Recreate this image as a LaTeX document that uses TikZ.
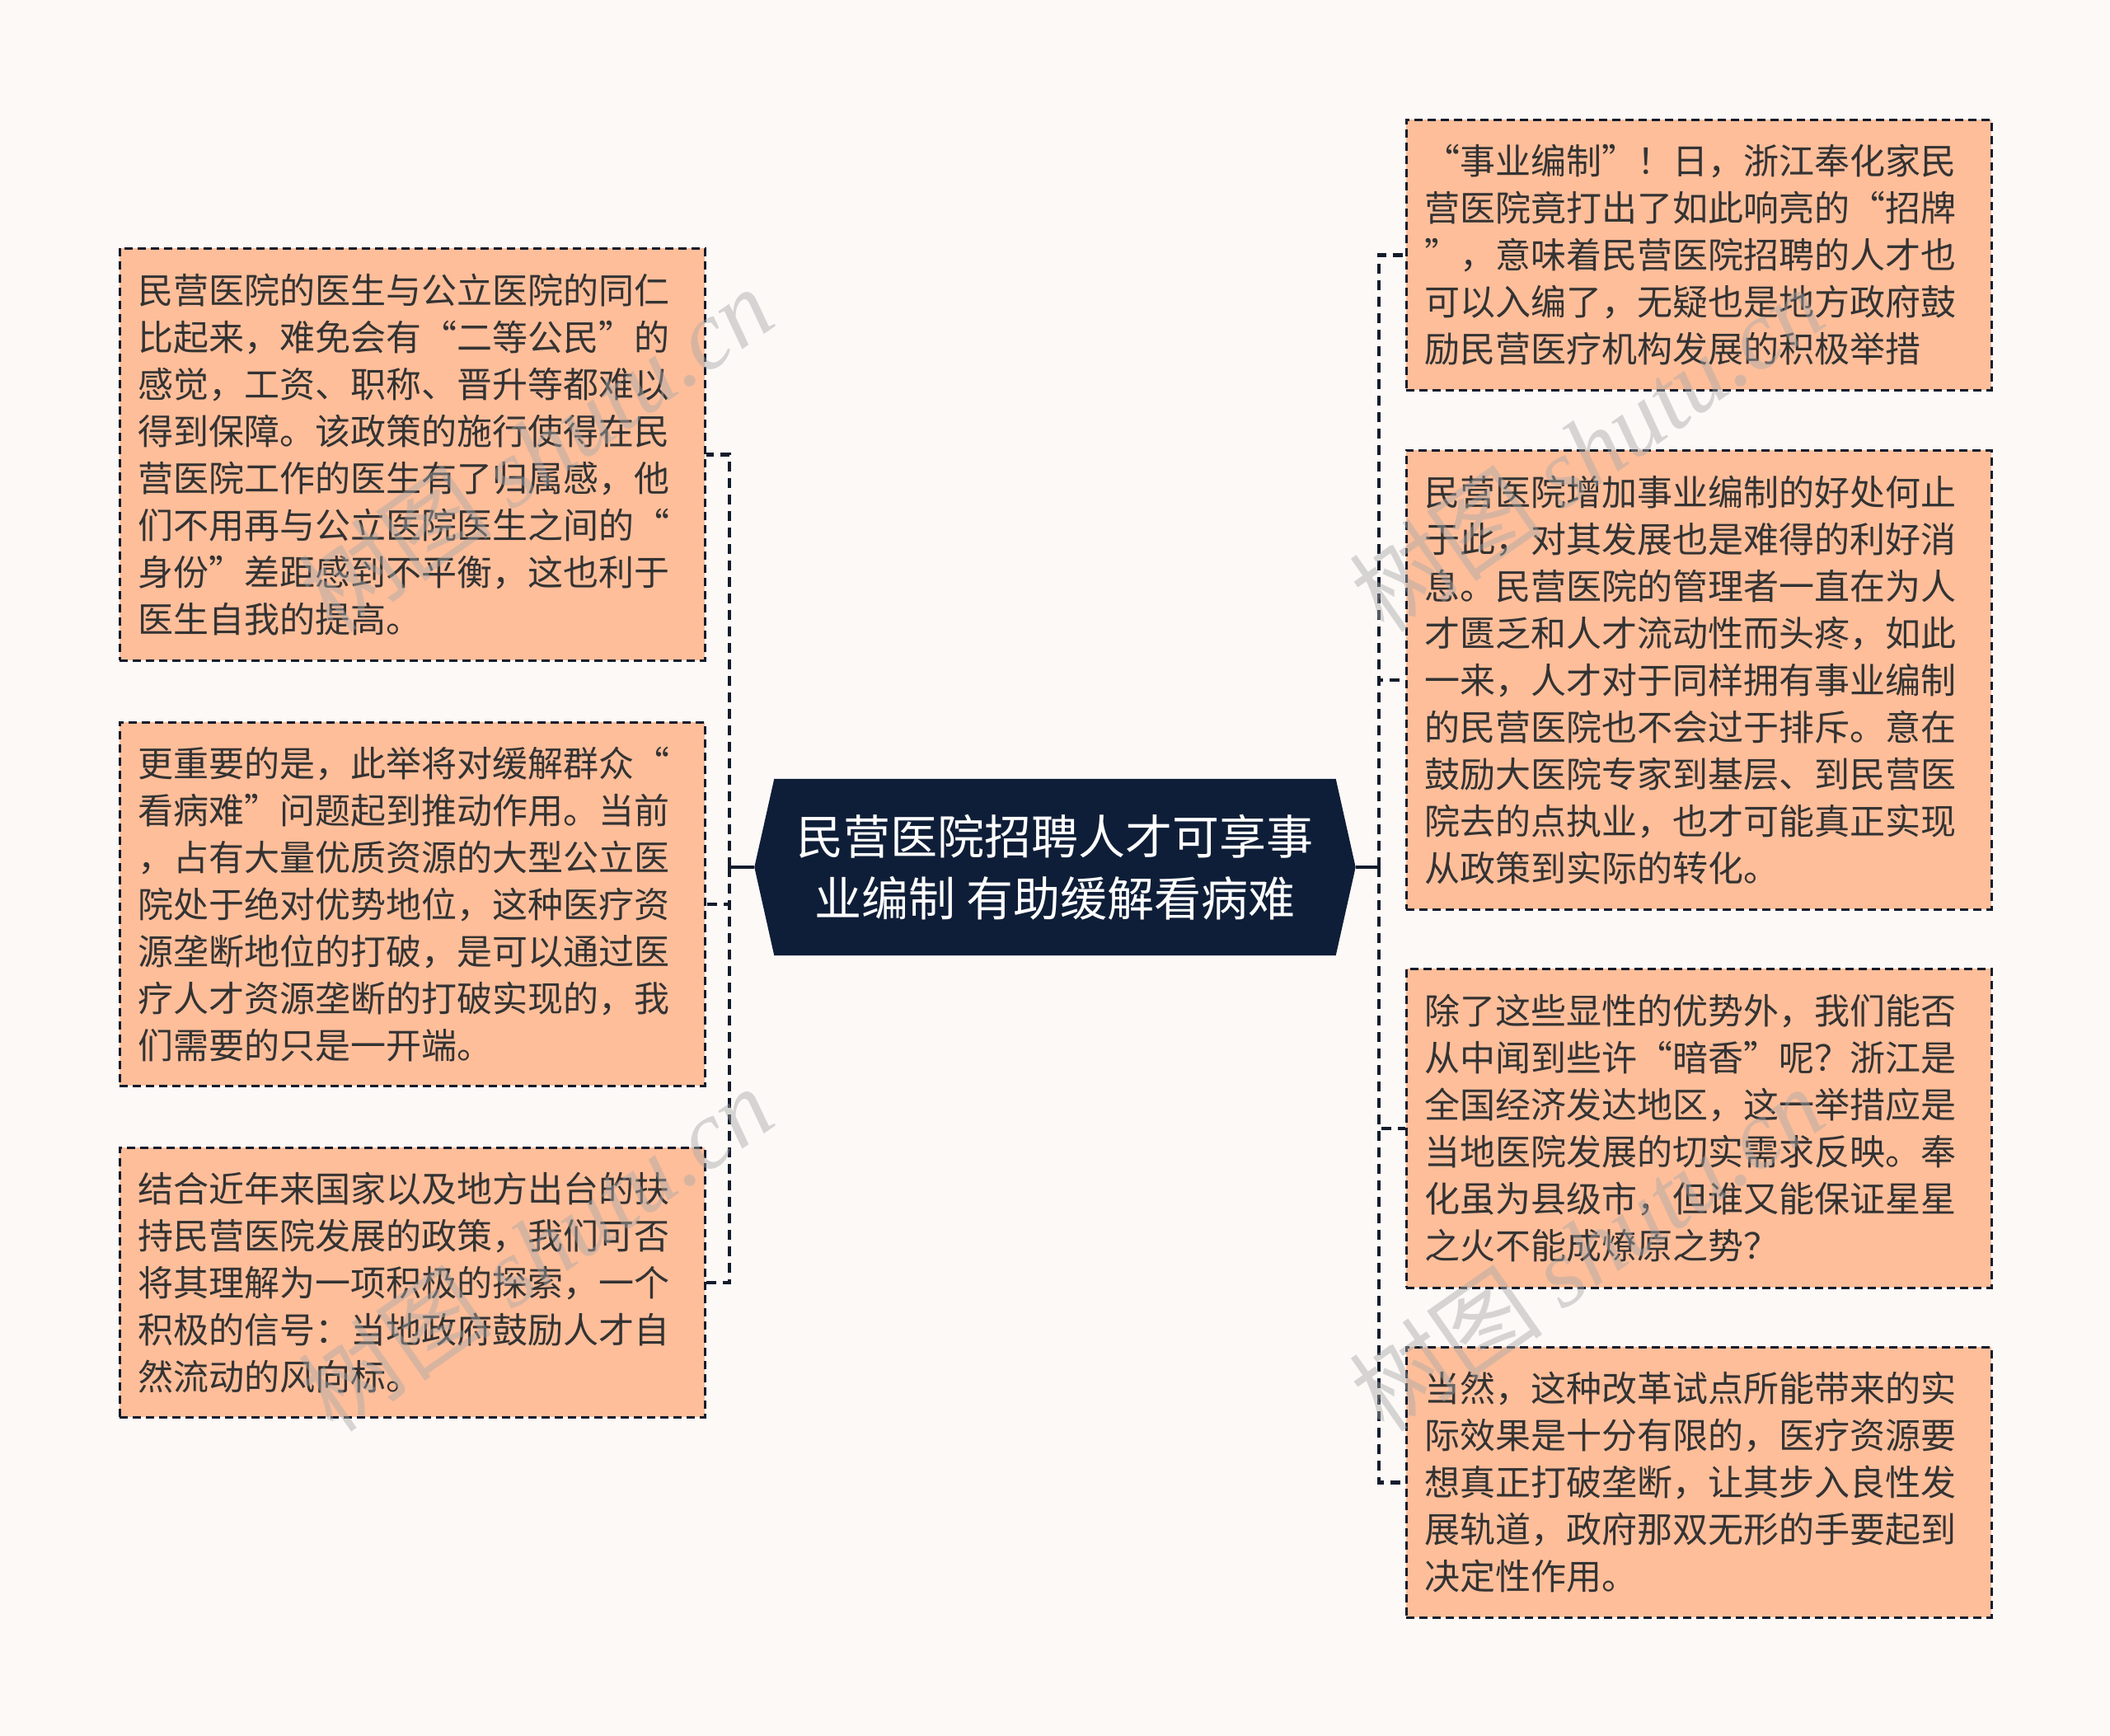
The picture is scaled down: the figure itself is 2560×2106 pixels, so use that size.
\documentclass[tikz,border=0pt]{standalone}
\usepackage{fontspec}
\setmainfont{Noto Sans CJK SC}
\newfontfamily\cjk{Noto Sans CJK SC}
\newfontfamily\wmfont{Liberation Serif}
\pgfdeclarelayer{bg}
\pgfdeclarelayer{mid}
\pgfsetlayers{bg,mid,main}
\definecolor{pagebg}{HTML}{FCF9F7}
\definecolor{peach}{HTML}{FFBE9A}
\definecolor{navy}{HTML}{0F1E38}
\definecolor{edgecol}{HTML}{141C2C}
\definecolor{txt}{HTML}{333333}
\definecolor{wmcol}{HTML}{A8A8A8}
\begin{document}
\begin{tikzpicture}[x=1pt,y=-1pt,
  leaf/.style={draw=edgecol, line width=2.7pt, dash pattern=on 10pt off 6pt,
    fill=peach, text=txt, anchor=north west, text width=666pt,
    inner xsep=22pt, inner ysep=0pt, align=left,
    font=\fontsize{43}{57}\selectfont, minimum width=710pt},
  conn/.style={draw=edgecol, line width=4.5pt, dash pattern=on 12pt off 8pt},
  stub/.style={draw=edgecol, line width=3.5pt},
  root/.style={text=white, align=center, font=\fontsize{57}{75}\selectfont,
    minimum width=681pt, minimum height=214pt, inner sep=0pt},
  wmark/.style={text=wmcol, opacity=0.45, rotate=35, inner sep=0pt,
    font=\fontsize{118}{118}\selectfont}
]
\useasboundingbox (0,0) rectangle (2560,2106);
\begin{pgfonlayer}{bg}
\fill[pagebg] (0,0) rectangle (2560,2106);
\end{pgfonlayer}

% root
\node[root] (c) at (1280,1052) {民营医院招聘人才可享事\\业编制 有助缓解看病难};
\begin{pgfonlayer}{mid}
\fill[navy] (c.north west) -- (c.north east) -- ([xshift=24pt]c.east)
  -- (c.south east) -- (c.south west) -- ([xshift=-24pt]c.west) -- cycle;
\end{pgfonlayer}
\coordinate (cw) at ([xshift=-24pt]c.west);
\coordinate (ce) at ([xshift=24pt]c.east);
\coordinate (jl) at (885,1052);
\coordinate (jr) at (1673,1052);

% left leaves
\node[leaf, minimum height=500pt] (l1) at (144,300) {民营医院的医生与公立医院的同仁\\比起来，难免会有“二等公民”的\\感觉，工资、职称、晋升等都难以\\得到保障。该政策的施行使得在民\\营医院工作的医生有了归属感，他\\们不用再与公立医院医生之间的“\\身份”差距感到不平衡，这也利于\\医生自我的提高。};
\node[leaf, minimum height=441pt] (l2) at (144,875) {更重要的是，此举将对缓解群众“\\看病难”问题起到推动作用。当前\\，占有大量优质资源的大型公立医\\院处于绝对优势地位，这种医疗资\\源垄断地位的打破，是可以通过医\\疗人才资源垄断的打破实现的，我\\们需要的只是一开端。};
\node[leaf, minimum height=327pt] (l3) at (144,1391) {结合近年来国家以及地方出台的扶\\持民营医院发展的政策，我们可否\\将其理解为一项积极的探索，一个\\积极的信号：当地政府鼓励人才自\\然流动的风向标。};

% right leaves
\node[leaf, minimum height=328pt] (r1) at (1705,144) {“事业编制”！日，浙江奉化家民\\营医院竟打出了如此响亮的“招牌\\”，意味着民营医院招聘的人才也\\可以入编了，无疑也是地方政府鼓\\励民营医疗机构发展的积极举措};
\node[leaf, minimum height=557pt] (r2) at (1705,545) {民营医院增加事业编制的好处何止\\于此，对其发展也是难得的利好消\\息。民营医院的管理者一直在为人\\才匮乏和人才流动性而头疼，如此\\一来，人才对于同样拥有事业编制\\的民营医院也不会过于排斥。意在\\鼓励大医院专家到基层、到民营医\\院去的点执业，也才可能真正实现\\从政策到实际的转化。};
\node[leaf, minimum height=387pt] (r3) at (1705,1174) {除了这些显性的优势外，我们能否\\从中闻到些许“暗香”呢？浙江是\\全国经济发达地区，这一举措应是\\当地医院发展的切实需求反映。奉\\化虽为县级市，但谁又能保证星星\\之火不能成燎原之势？};
\node[leaf, minimum height=328pt] (r4) at (1705,1633) {当然，这种改革试点所能带来的实\\际效果是十分有限的，医疗资源要\\想真正打破垄断，让其步入良性发\\展轨道，政府那双无形的手要起到\\决定性作用。};

% connectors
\draw[stub] (cw) -- (jl);
\draw[stub] (ce) -- (jr);
\draw[conn] (jl) |- (l1.east);
\draw[conn] (jl) |- (l2.east);
\draw[conn] (jl) |- (l3.east);
\draw[conn] (jr) |- (r1.west);
\draw[conn] (jr) |- (r2.west);
\draw[conn] (jr) |- (r3.west);
\draw[conn] (jr) |- (r4.west);

% watermarks
\node[wmark] (wm1) at (650,545) {{\cjk 树图} {\wmfont\itshape shutu.cn}};
\node[wmark] (wm2) at (1925,545) {{\cjk 树图} {\wmfont\itshape shutu.cn}};
\node[wmark] (wm3) at (650,1515) {{\cjk 树图} {\wmfont\itshape shutu.cn}};
\node[wmark] (wm4) at (1925,1515) {{\cjk 树图} {\wmfont\itshape shutu.cn}};
\end{tikzpicture}
\end{document}
